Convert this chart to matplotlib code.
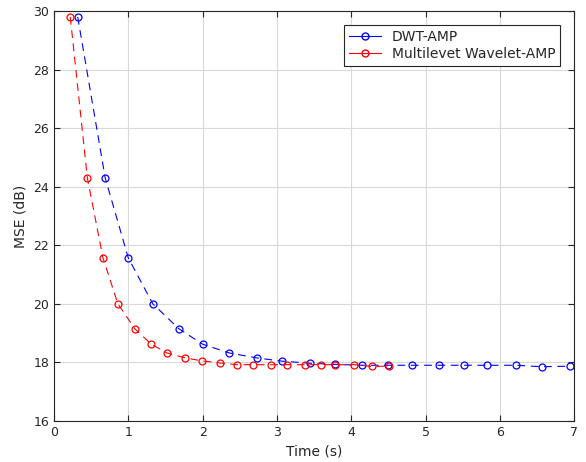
import matplotlib
matplotlib.use("Agg")
import matplotlib.pyplot as plt
from matplotlib.lines import Line2D

dwt_t = [0.32, 0.69, 1.00, 1.33, 1.68, 2.00, 2.36, 2.73, 3.07, 3.45,
         3.78, 4.15, 4.50, 4.82, 5.18, 5.52, 5.83, 6.22, 6.57, 6.94]
dwt_mse = [29.8, 24.3, 21.57, 20.0, 19.15, 18.62, 18.32, 18.15, 18.04, 17.97,
           17.93, 17.9, 17.9, 17.9, 17.9, 17.9, 17.9, 17.9, 17.85, 17.87]
ml_t = [0.22, 0.45, 0.66, 0.86, 1.09, 1.31, 1.52, 1.77, 1.99, 2.23,
        2.46, 2.68, 2.92, 3.14, 3.38, 3.59, 3.78, 4.04, 4.28, 4.51]
ml_mse = [29.8, 24.3, 21.57, 20.0, 19.14, 18.62, 18.32, 18.15, 18.05, 17.98,
          17.92, 17.92, 17.92, 17.92, 17.92, 17.92, 17.92, 17.92, 17.86, 17.87]
labels = ["DWT-AMP", "Multilevet Wavelet-AMP"]

fig = plt.figure(figsize=(5.86, 4.62), dpi=100)
ax = fig.add_axes([0.092, 0.089, 0.888, 0.887])

ax.plot(dwt_t, dwt_mse, color="blue", ls=(0, (7, 5)), lw=0.8, marker="o",
        mfc="none", ms=5, mew=0.9)
ax.plot(ml_t, ml_mse, color="red", ls=(0, (7, 5)), lw=0.8, marker="o",
        mfc="none", ms=5, mew=0.9)

ax.set_xlim(0, 7)
ax.set_ylim(16, 30)
ax.set_xticks(range(0, 8))
ax.set_yticks(range(16, 31, 2))
ax.grid(True, color="#d9d9d9", lw=0.8)
ax.tick_params(direction="in", top=True, right=True, labelsize=9,
               colors="#262626", length=4)
for s in ax.spines.values():
    s.set_color("#262626")
ax.set_xlabel("Time (s)", fontsize=10, color="#262626")
ax.set_ylabel("MSE (dB)", fontsize=10, color="#262626")

handles = [Line2D([], [], color="blue", lw=0.8, marker="o", mfc="none", ms=5),
           Line2D([], [], color="red", lw=0.8, marker="o", mfc="none", ms=5)]
leg = ax.legend(handles, labels, loc="upper right", fontsize=10,
                fancybox=False, edgecolor="#262626", framealpha=1,
                borderaxespad=1.0, handlelength=2.3, borderpad=0.35,
                labelspacing=0.25)
leg.get_frame().set_linewidth(0.8)
for t in leg.get_texts():
    t.set_color("#262626")

fig.savefig("out.png", dpi=100)
